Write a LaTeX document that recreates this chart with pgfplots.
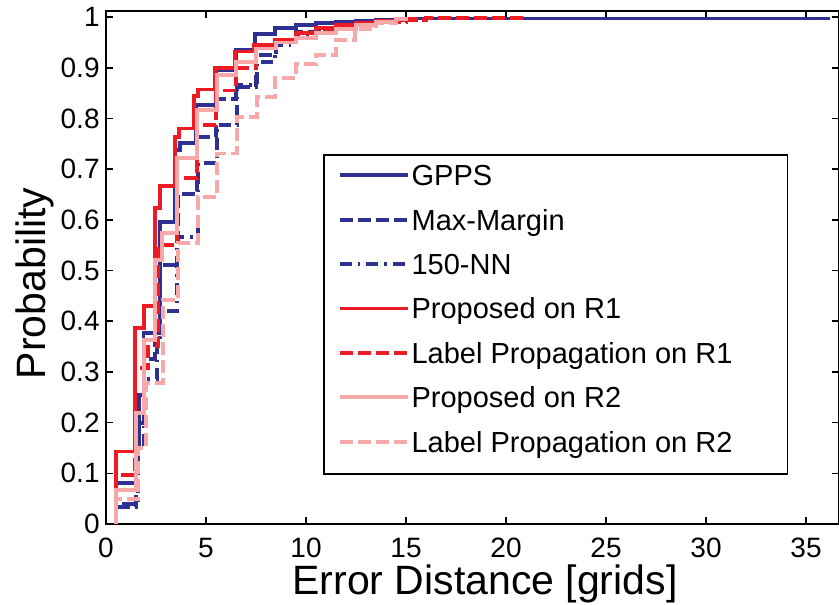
\documentclass[border=0pt]{standalone}
\usepackage{pgfplots}
\pgfplotsset{compat=1.18}
\usepackage{fontspec}
\setmainfont{Liberation Sans}
\definecolor{mblue}{RGB}{46,49,146}
\definecolor{mred}{RGB}{237,28,36}
\definecolor{mpink}{RGB}{247,168,168}
\begin{document}
\begin{tikzpicture}
\begin{axis}[
    name=ax,
    scale only axis,
    width=366.5pt, height=256.5pt,
    xmin=0, xmax=36.65, ymin=0, ymax=1.012,
    xtick={0,5,10,15,20,25,30,35},
    ytick={0,0.1,0.2,0.3,0.4,0.5,0.6,0.7,0.8,0.9,1},
    tick align=inside,
    major tick length=3.5pt,
    tick style={black, line width=0.8pt},
    axis line style={black, line width=0.8pt},
    /pgf/number format/assume math mode=true,
    tick label style={font=\fontsize{14}{16}\selectfont},
    yticklabel style={inner sep=0pt, xshift=-3pt},
    xticklabel style={inner sep=0pt, yshift=-7pt},
    xlabel={Error Distance [grids]},
    ylabel={Probability},
    xlabel style={font=\fontsize{20.5}{24}\selectfont, at={(axis description cs:0.517,-0.1365)}, anchor=base},
    ylabel style={font=\fontsize{20.5}{24}\selectfont, at={(axis description cs:-0.0832,0.469)}, anchor=base},
    every axis plot/.append style={line width=1.9pt},
    legend cell align=left,
    legend image code/.code={\draw[#1, line width=1.9pt] (0pt,5.2pt) -- (34pt,5.2pt);},
    legend style={at={(axis cs:10.85,0.730)}, anchor=north west,
        draw=black, line width=0.8pt,
        inner xsep=7pt, inner ysep=4.5pt, row sep=4.9pt, column sep=1pt,
        font=\fontsize{14.5}{17}\selectfont,
        nodes={inner sep=0pt, text height=11pt, text depth=6.3pt, anchor=base west}},
  ]
  % GPPS
  \addplot[const plot, mblue] coordinates {
    (0.5,0) (0.5,0.081) (1.5,0.152) (1.65,0.254) (1.87,0.376) (2.7,0.596)
    (3.45,0.737) (3.7,0.752) (4.5,0.826) (5.5,0.895) (6.5,0.935) (7.45,0.966)
    (8.45,0.978) (9.5,0.984) (10.5,0.988) (11.5,0.991) (12.5,0.993)
    (13.5,0.995) (15,0.997) (36.1,0.997) (36.1,1)};
  % Max-Margin
  \addplot[const plot, mblue, dash pattern=on 6.5pt off 2.5pt] coordinates {
    (0.5,0) (0.5,0.034) (1.5,0.2) (1.9,0.325) (2.45,0.458) (2.7,0.511)
    (3.6,0.651) (4.55,0.763) (5.5,0.838) (6.5,0.862) (7.5,0.925) (8.5,0.955)
    (9.5,0.97) (10.5,0.978) (11.5,0.984) (12.5,0.99) (14,0.995) (15.5,1)};
  % 150-NN
  \addplot[const plot, mblue, dash pattern=on 6pt off 3pt on 1.2pt off 3pt] coordinates {
    (0.5,0) (0.5,0.04) (1.6,0.15) (1.9,0.286) (2.55,0.357) (2.7,0.42)
    (3.55,0.566) (4.6,0.712) (5.55,0.787) (6.55,0.866) (7.55,0.911)
    (8.45,0.945) (9.5,0.962) (10.5,0.974) (11.5,0.982) (12.5,0.988)
    (13.5,0.993) (15,1)};
  % Proposed on R1
  \addplot[const plot, mred] coordinates {
    (0.5,0) (0.5,0.143) (1.45,0.387) (1.9,0.43) (2.45,0.623) (2.7,0.667)
    (3.45,0.763) (3.65,0.78) (4.4,0.845) (4.6,0.857) (5.45,0.9) (6.45,0.932)
    (7.4,0.945) (8.45,0.955) (9.5,0.968) (10.5,0.978) (11.5,0.984)
    (12.5,0.989) (13.5,0.993) (14.5,0.996) (15.5,1)};
  % Label Propagation on R1
  \addplot[const plot, mred, dash pattern=on 6.5pt off 2.5pt] coordinates {
    (0.5,0) (0.5,0.097) (1.45,0.307) (2.1,0.35) (2.6,0.55) (3.55,0.682)
    (4.55,0.787) (5.5,0.855) (6.5,0.9) (7.5,0.94) (8.5,0.952) (9.5,0.968)
    (10.5,0.976) (11.5,0.982) (12.5,0.987) (13.5,0.991) (15,0.995)
    (16,0.998) (21,0.998)};
  % Proposed on R2
  \addplot[const plot, mpink] coordinates {
    (0.5,0) (0.5,0.067) (1.5,0.219) (1.9,0.363) (2.45,0.52) (2.8,0.574)
    (3.55,0.722) (4.55,0.817) (5.55,0.886) (6.5,0.912) (7.5,0.938)
    (8.5,0.95) (9.5,0.958) (10.5,0.968) (11.5,0.976) (12.5,0.984)
    (13.5,0.99) (14.5,0.996) (15,1)};
  % Label Propagation on R2
  \addplot[const plot, mpink, dash pattern=on 6.5pt off 2.5pt] coordinates {
    (0.5,0) (0.5,0.05) (1.6,0.15) (2.0,0.278) (2.85,0.442) (3.6,0.554)
    (4.6,0.645) (5.55,0.731) (6.55,0.803) (7.55,0.843) (8.45,0.88)
    (9.5,0.908) (10.5,0.925) (11.5,0.955) (12.45,0.976) (13.5,0.988)
    (14.5,0.996) (15,1)};
  \legend{GPPS, Max-Margin, 150-NN, Proposed on R1, Label Propagation on R1,
    Proposed on R2, Label Propagation on R2\rule{20.5pt}{0pt}}
\end{axis}
\pgfresetboundingbox
\path ([shift={(-53pt,-40pt)}]ax.south west) rectangle ([shift={(0pt,5.5pt)}]ax.north east);
\end{tikzpicture}
\end{document}
